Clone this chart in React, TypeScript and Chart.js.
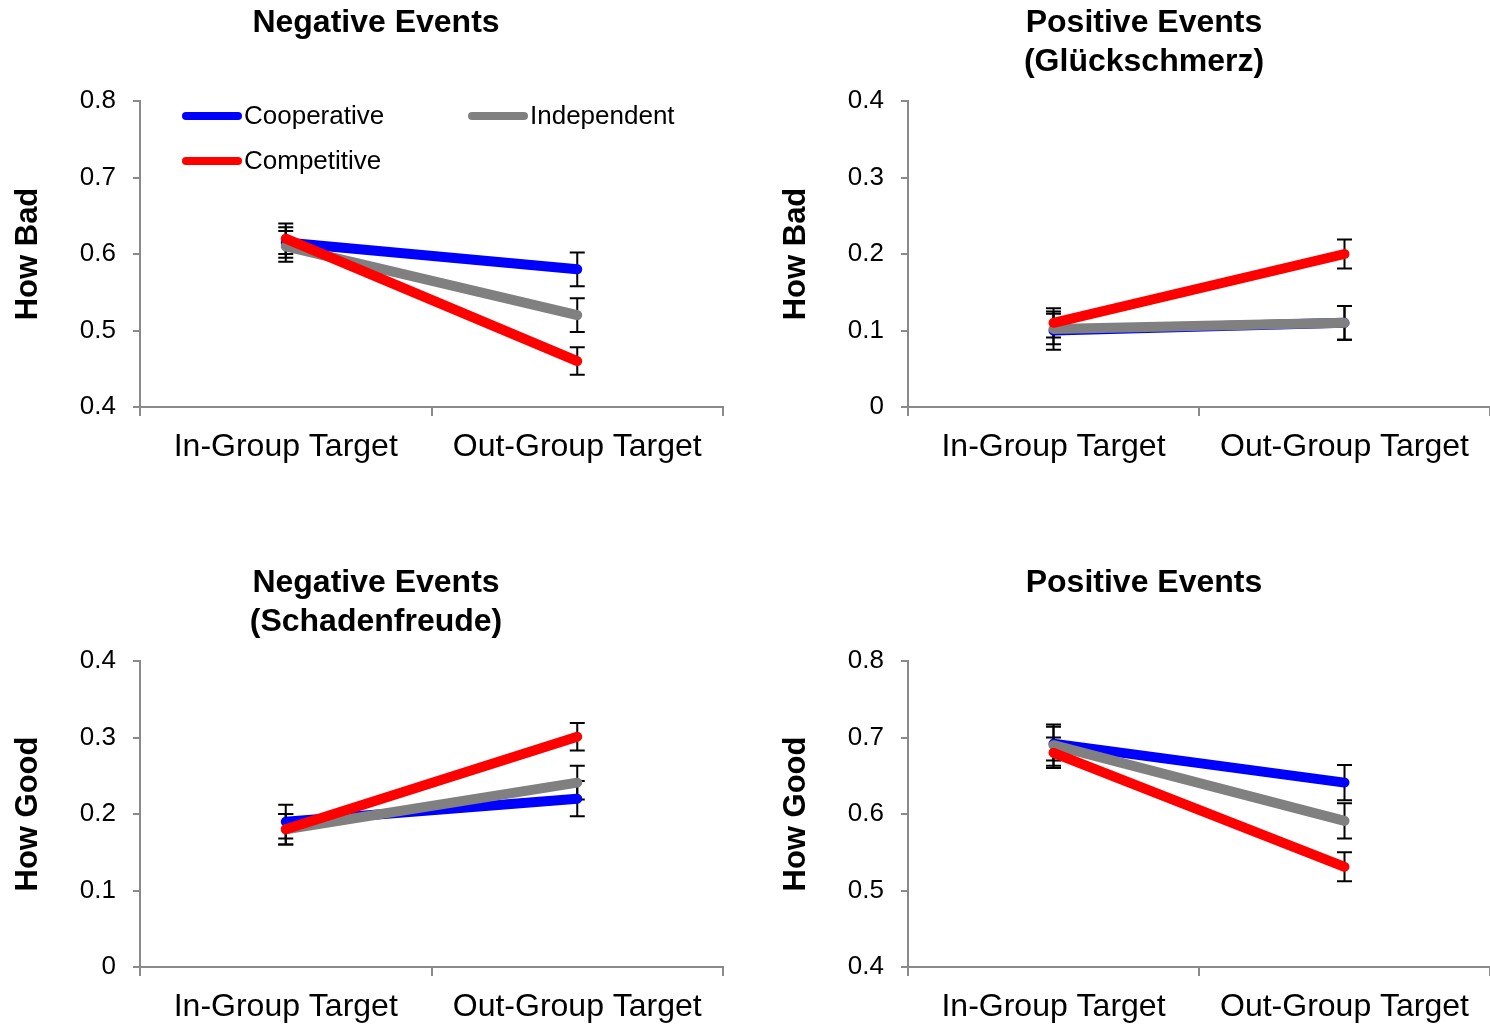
import React, { useEffect, useRef } from "react";
import { Chart, registerables } from "chart.js";

Chart.register(...registerables);

// ---------- data ----------
const CATEGORIES = ["In-Group Target", "Out-Group Target"];
const SERIES_NAMES = ["Cooperative", "Independent", "Competitive"];
const SERIES_COLORS = ["#0000FF", "#808080", "#FF0000"];

// Panel 1: Negative Events — How Bad
const NEG_BAD_COOP = [0.615, 0.58];
const NEG_BAD_COOP_ERR = [0.02, 0.022];
const NEG_BAD_INDEP = [0.61, 0.52];
const NEG_BAD_INDEP_ERR = [0.02, 0.022];
const NEG_BAD_COMP = [0.62, 0.46];
const NEG_BAD_COMP_ERR = [0.02, 0.018];

// Panel 2: Positive Events (Glückschmerz) — How Bad
const POS_BAD_COOP = [0.1, 0.11];
const POS_BAD_COOP_ERR = [0.025, 0.022];
const POS_BAD_INDEP = [0.102, 0.11];
const POS_BAD_INDEP_ERR = [0.02, 0.022];
const POS_BAD_COMP = [0.11, 0.2];
const POS_BAD_COMP_ERR = [0.019, 0.019];

// Panel 3: Negative Events (Schadenfreude) — How Good
const NEG_GOOD_COOP = [0.19, 0.22];
const NEG_GOOD_COOP_ERR = [0.022, 0.023];
const NEG_GOOD_INDEP = [0.18, 0.241];
const NEG_GOOD_INDEP_ERR = [0.02, 0.022];
const NEG_GOOD_COMP = [0.18, 0.301];
const NEG_GOOD_COMP_ERR = [0.02, 0.018];

// Panel 4: Positive Events — How Good
const POS_GOOD_COOP = [0.692, 0.641];
const POS_GOOD_COOP_ERR = [0.022, 0.023];
const POS_GOOD_INDEP = [0.69, 0.591];
const POS_GOOD_INDEP_ERR = [0.027, 0.023];
const POS_GOOD_COMP = [0.68, 0.531];
const POS_GOOD_COMP_ERR = [0.02, 0.019];

const TICKS_HIGH = [0.4, 0.5, 0.6, 0.7, 0.8];
const TICKS_LOW = [0, 0.1, 0.2, 0.3, 0.4];

// ---------- styling ----------
const FONT = "'Liberation Sans', Arial, Helvetica, sans-serif";
const AXIS_GRAY = "#8a8a8a";

Chart.defaults.font.family = FONT;
Chart.defaults.color = "#000";

const errorBarPlugin = {
  id: "errorBars",
  beforeDatasetsDraw(chart: any) {
    const ctx = chart.ctx;
    const yScale = chart.scales.y;
    ctx.save();
    ctx.strokeStyle = "#000";
    ctx.lineWidth = 2;
    chart.data.datasets.forEach((ds: any, di: number) => {
      const meta = chart.getDatasetMeta(di);
      if (!meta || meta.hidden || !ds.errors) return;
      ds.data.forEach((v: number, i: number) => {
        const pt = meta.data[i];
        if (!pt) return;
        const x = pt.x;
        const yTop = yScale.getPixelForValue(v + ds.errors[i]);
        const yBot = yScale.getPixelForValue(v - ds.errors[i]);
        const cap = 7.5;
        ctx.beginPath();
        ctx.moveTo(x, yTop);
        ctx.lineTo(x, yBot);
        ctx.moveTo(x - cap, yTop);
        ctx.lineTo(x + cap, yTop);
        ctx.moveTo(x - cap, yBot);
        ctx.lineTo(x + cap, yBot);
        ctx.stroke();
      });
    });
    ctx.restore();
  },
};

const lineLegendPlugin = {
  id: "lineLegend",
  afterDraw(chart: any, _args: any, opts: any) {
    if (!opts || !opts.show) return;
    const ctx = chart.ctx;
    const { left, top } = chart.chartArea;
    const slots = [
      [42, 15],
      [328, 15],
      [42, 60],
    ];
    ctx.save();
    SERIES_NAMES.forEach((name, i) => {
      const [dx, dy] = slots[i];
      const x = left + dx;
      const y = top + dy;
      ctx.strokeStyle = SERIES_COLORS[i];
      ctx.lineWidth = 8;
      ctx.lineCap = "round";
      ctx.beginPath();
      ctx.moveTo(x + 4, y);
      ctx.lineTo(x + 56, y);
      ctx.stroke();
      ctx.fillStyle = "#000";
      ctx.font = `26px ${FONT}`;
      ctx.textBaseline = "middle";
      ctx.textAlign = "left";
      ctx.fillText(name, x + 62, y + 1);
    });
    ctx.restore();
  },
};

const panelTitlePlugin = {
  id: "panelTitle",
  afterDraw(chart: any, _args: any, opts: any) {
    if (!opts || !opts.text) return;
    const ctx = chart.ctx;
    const lines: string[] = Array.isArray(opts.text) ? opts.text : [opts.text];
    ctx.save();
    ctx.fillStyle = "#000";
    ctx.font = `bold 32px ${FONT}`;
    ctx.textAlign = "center";
    ctx.textBaseline = "middle";
    lines.forEach((t, i) => ctx.fillText(t, opts.x, opts.y + i * 39));
    ctx.restore();
  },
};

type PanelCfg = {
  title: string | string[];
  yTitle: string;
  ticks: number[];
  coop: number[];
  coopErr: number[];
  indep: number[];
  indepErr: number[];
  comp: number[];
  compErr: number[];
  legend: boolean;
};

function buildConfig(cfg: PanelCfg, height: number, padRight: number): any {
  const series = [
    { data: cfg.coop, errors: cfg.coopErr, order: 3 },
    { data: cfg.indep, errors: cfg.indepErr, order: 2 },
    { data: cfg.comp, errors: cfg.compErr, order: 1 },
  ];
  return {
    type: "line",
    data: {
      labels: CATEGORIES,
      datasets: series.map((s, i) => ({
        label: SERIES_NAMES[i],
        data: s.data,
        errors: s.errors,
        order: s.order,
        borderColor: SERIES_COLORS[i],
        backgroundColor: SERIES_COLORS[i],
        borderWidth: 10,
        borderCapStyle: "round",
        borderJoinStyle: "round",
        pointRadius: 0,
        pointHoverRadius: 0,
        tension: 0,
        fill: false,
      })),
    },
    options: {
      responsive: false,
      animation: false,
      events: [],
      layout: { padding: { left: 0, right: padRight, top: 101, bottom: 0 } },
      plugins: {
        legend: { display: false },
        tooltip: { enabled: false },
        title: { display: false },
        panelTitle: { text: cfg.title, x: 376, y: 23 },
        lineLegend: { show: cfg.legend },
      },
      scales: {
        x: {
          type: "category",
          offset: true,
          grid: {
            display: true,
            drawOnChartArea: false,
            drawTicks: true,
            tickLength: 9,
            offset: true,
            color: AXIS_GRAY,
            lineWidth: 2,
          },
          border: { display: true, color: AXIS_GRAY, width: 2 },
          ticks: {
            color: "#000",
            font: { size: 32, family: FONT },
            padding: 12,
            maxRotation: 0,
            autoSkip: false,
          },
          afterFit: (s: any) => {
            s.height = height - 407;
          },
        },
        y: {
          type: "linear",
          min: cfg.ticks[0],
          max: cfg.ticks[cfg.ticks.length - 1],
          grid: {
            display: true,
            drawOnChartArea: false,
            drawTicks: true,
            tickLength: 7,
            color: AXIS_GRAY,
            lineWidth: 2,
          },
          border: { display: true, color: AXIS_GRAY, width: 2 },
          ticks: {
            color: "#000",
            font: { size: 26, family: FONT },
            padding: 17,
            callback: (v: number) => (Math.abs(v) < 1e-9 ? "0" : Number(v).toFixed(1)),
          },
          afterBuildTicks: (s: any) => {
            s.ticks = cfg.ticks.map((v) => ({ value: v }));
          },
          title: {
            display: true,
            text: cfg.yTitle,
            color: "#000",
            font: { size: 31, weight: "bold", family: FONT },
            padding: { top: 10, bottom: 0 },
          },
          afterFit: (s: any) => {
            s.width = 140;
          },
        },
      },
    },
    plugins: [errorBarPlugin, lineLegendPlugin, panelTitlePlugin],
  };
}

const PANELS: { cfg: PanelCfg; left: number; top: number; width: number; height: number; padRight: number }[] = [
  {
    cfg: {
      title: "Negative Events",
      yTitle: "How Bad",
      ticks: TICKS_HIGH,
      coop: NEG_BAD_COOP,
      coopErr: NEG_BAD_COOP_ERR,
      indep: NEG_BAD_INDEP,
      indepErr: NEG_BAD_INDEP_ERR,
      comp: NEG_BAD_COMP,
      compErr: NEG_BAD_COMP_ERR,
      legend: true,
    },
    left: 0,
    top: 0,
    width: 745,
    height: 480,
    padRight: 22,
  },
  {
    cfg: {
      title: ["Positive Events", "(Glückschmerz)"],
      yTitle: "How Bad",
      ticks: TICKS_LOW,
      coop: POS_BAD_COOP,
      coopErr: POS_BAD_COOP_ERR,
      indep: POS_BAD_INDEP,
      indepErr: POS_BAD_INDEP_ERR,
      comp: POS_BAD_COMP,
      compErr: POS_BAD_COMP_ERR,
      legend: false,
    },
    left: 768,
    top: 0,
    width: 722,
    height: 480,
    padRight: 0,
  },
  {
    cfg: {
      title: ["Negative Events", "(Schadenfreude)"],
      yTitle: "How Good",
      ticks: TICKS_LOW,
      coop: NEG_GOOD_COOP,
      coopErr: NEG_GOOD_COOP_ERR,
      indep: NEG_GOOD_INDEP,
      indepErr: NEG_GOOD_INDEP_ERR,
      comp: NEG_GOOD_COMP,
      compErr: NEG_GOOD_COMP_ERR,
      legend: false,
    },
    left: 0,
    top: 560,
    width: 745,
    height: 469,
    padRight: 22,
  },
  {
    cfg: {
      title: "Positive Events",
      yTitle: "How Good",
      ticks: TICKS_HIGH,
      coop: POS_GOOD_COOP,
      coopErr: POS_GOOD_COOP_ERR,
      indep: POS_GOOD_INDEP,
      indepErr: POS_GOOD_INDEP_ERR,
      comp: POS_GOOD_COMP,
      compErr: POS_GOOD_COMP_ERR,
      legend: false,
    },
    left: 768,
    top: 560,
    width: 722,
    height: 469,
    padRight: 0,
  },
];

function Panel(props: { cfg: PanelCfg; left: number; top: number; width: number; height: number; padRight: number }) {
  const ref = useRef<HTMLCanvasElement | null>(null);
  useEffect(() => {
    if (!ref.current) return;
    const chart = new Chart(ref.current, buildConfig(props.cfg, props.height, props.padRight));
    return () => chart.destroy();
  }, []);
  return (
    <div style={{ position: "absolute", left: props.left, top: props.top, width: props.width, height: props.height }}>
      <canvas ref={ref} width={props.width} height={props.height} />
    </div>
  );
}

export default function App() {
  return (
    <div style={{ position: "absolute", left: 0, top: 0, width: 1490, height: 1029, background: "#fff", overflow: "hidden" }}>
      {PANELS.map((p, i) => (
        <Panel key={i} {...p} />
      ))}
    </div>
  );
}
